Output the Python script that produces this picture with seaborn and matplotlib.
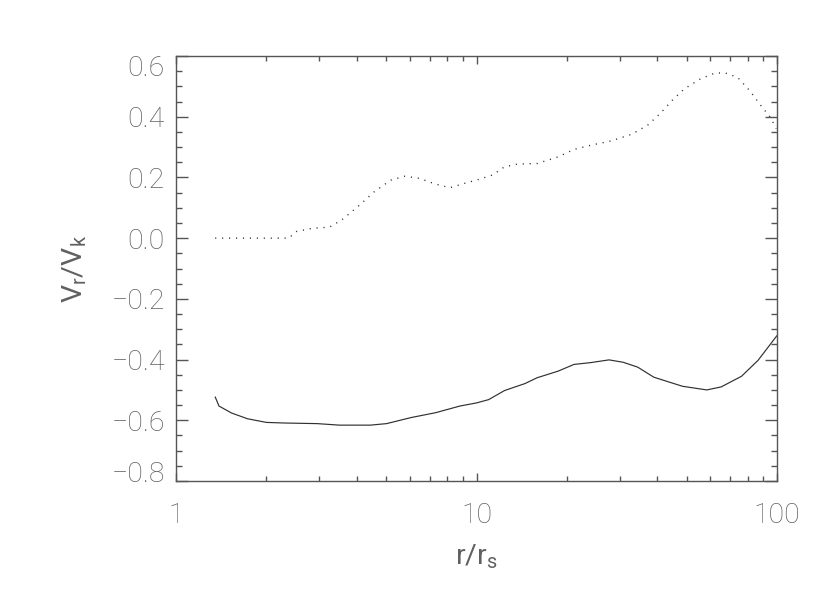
import numpy as np
import pandas as pd
import matplotlib
matplotlib.use("Agg")
import matplotlib.pyplot as plt
import matplotlib.transforms as mtransforms
from matplotlib.ticker import MultipleLocator, FixedLocator, LogLocator, NullFormatter
import seaborn as sns

# ---- data ----
r_solid = [1.35, 1.39, 1.53, 1.73, 2.0, 2.30, 2.95, 3.50, 4.43, 5.02, 6.06, 7.31,
           8.81, 9.98, 10.97, 12.4, 14.5, 15.9, 18.7, 21.1, 24.0, 27.6, 30.8, 34.4,
           38.9, 43.4, 48.5, 58.4, 65.2, 76.2, 86.4, 100.0]
v_solid = [-0.523, -0.553, -0.576, -0.595, -0.607, -0.609, -0.611, -0.616, -0.616,
           -0.611, -0.591, -0.575, -0.553, -0.543, -0.532, -0.502, -0.479, -0.460,
           -0.438, -0.416, -0.410, -0.401, -0.409, -0.425, -0.458, -0.473, -0.488,
           -0.500, -0.490, -0.455, -0.403, -0.321]

r_dot = [1.35, 2.37, 2.52, 2.86, 3.24, 3.56, 4.03, 4.57, 5.18, 5.78, 6.45, 7.31,
         8.15, 9.09, 10.3, 11.3, 12.4, 13.7, 15.96, 18.7, 21.1, 24.0, 28.0, 32.8,
         37.1, 40.8, 44.8, 49.2, 55.7, 62.2, 67.3, 73.9, 81.1, 89.1, 94.9, 99.4]
v_dot = [0.0, 0.0, 0.022, 0.033, 0.036, 0.060, 0.104, 0.153, 0.191, 0.204, 0.197,
         0.178, 0.166, 0.180, 0.195, 0.208, 0.235, 0.244, 0.246, 0.268, 0.292, 0.306,
         0.320, 0.342, 0.372, 0.410, 0.454, 0.492, 0.525, 0.544, 0.544, 0.530, 0.486,
         0.432, 0.399, 0.361]

x_ticks = [1, 10, 100]
x_ticklabels = ["1", "10", "100"]
y_ticks = [-0.8, -0.6, -0.4, -0.2, 0.0, 0.2, 0.4, 0.6]
y_ticklabels = ["\u22120.8", "\u22120.6", "\u22120.4", "\u22120.2", "0.0", "0.2", "0.4", "0.6"]
x_label = "r/r$_\\mathregular{s}$"
y_label = "V$_\\mathregular{r}$/V$_\\mathregular{k}$"

# ---- style ----
sns.set_theme(style="ticks")
plt.rcParams["font.family"] = ["Roboto", "DejaVu Sans"]
plt.rcParams["font.weight"] = "light"
plt.rcParams["mathtext.default"] = "regular"

AX_COL = "#555555"
TXT_COL = "#606060"
LINE_COL = "#303030"

fig = plt.figure(figsize=(8.3, 5.93), dpi=100)
ax = fig.add_axes([176 / 830, 1 - 481 / 593, 601 / 830, 425 / 593])

df_s = pd.DataFrame({"r": r_solid, "v": v_solid})
df_d = pd.DataFrame({"r": r_dot, "v": v_dot})
sns.lineplot(data=df_s, x="r", y="v", ax=ax, color=LINE_COL, lw=0.85,
             estimator=None, sort=False)
sns.lineplot(data=df_d, x="r", y="v", ax=ax, color=LINE_COL, lw=1.0,
             estimator=None, sort=False, linestyle=(0, (0.8, 4.2)))

ax.set_xscale("log")
ax.set_xlim(1, 100)
ax.set_ylim(-0.8, 0.6)

ax.xaxis.set_major_locator(FixedLocator(x_ticks))
ax.set_xticklabels(x_ticklabels)
ax.xaxis.set_minor_locator(LogLocator(base=10, subs=np.arange(2, 10)))
ax.xaxis.set_minor_formatter(NullFormatter())
ax.yaxis.set_major_locator(FixedLocator(y_ticks))
ax.set_yticklabels(y_ticklabels)
ax.yaxis.set_minor_locator(MultipleLocator(0.05))

for s in ax.spines.values():
    s.set_visible(True)
    s.set_color(AX_COL)
    s.set_linewidth(1.0)

ax.tick_params(axis="both", which="both", direction="in", color=AX_COL,
               width=1.0, top=True, right=True, labelcolor=TXT_COL, labelsize=20.5)
ax.tick_params(axis="y", which="major", length=8.6, pad=8)
ax.tick_params(axis="y", which="minor", length=4.3)
ax.tick_params(axis="x", which="major", length=6.0, pad=15)
ax.tick_params(axis="x", which="minor", length=3.5)

ax.set_xlabel(x_label, fontsize=20.5, color=TXT_COL, labelpad=10)
ax.set_ylabel(y_label, fontsize=20.5, color=TXT_COL, labelpad=16)

fig.canvas.draw()
# shift the extreme y tick labels inward, as in the reference
ticks = ax.yaxis.get_major_ticks()
locs = list(ax.yaxis.get_majorticklocs())
for t, loc in zip(ticks, locs):
    if abs(loc - 0.6) < 1e-6:
        t.label1.set_transform(t.label1.get_transform() +
                               mtransforms.ScaledTranslation(0, -10 / 100, fig.dpi_scale_trans))
    if abs(loc + 0.8) < 1e-6:
        t.label1.set_transform(t.label1.get_transform() +
                               mtransforms.ScaledTranslation(0, 9 / 100, fig.dpi_scale_trans))

fig.savefig("out.png", dpi=100)
